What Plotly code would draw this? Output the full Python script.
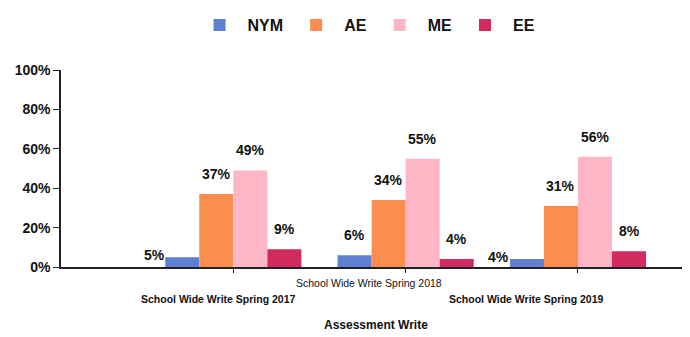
import plotly.graph_objects as go

categories = ["School Wide Write Spring 2017", "School Wide Write Spring 2018", "School Wide Write Spring 2019"]
series_names = ["NYM", "AE", "ME", "EE"]
nym = [5, 6, 4]
ae = [37, 34, 31]
me = [49, 55, 56]
ee = [9, 4, 8]
y_ticks = [0, 20, 40, 60, 80, 100]
y_tick_labels = ["0%", "20%", "40%", "60%", "80%", "100%"]
x_title = "Assessment Write"

colors = ["#5f7fd1", "#fb8d4f", "#ffb7c7", "#d12b60"]
series_values = [nym, ae, me, ee]

FONT = "Liberation Sans, Arial, sans-serif"
bargap = 0.21
bar_w = (1 - bargap) / len(series_names)

fig = go.Figure()
idx = list(range(len(categories)))
for name, vals, col in zip(series_names, series_values, colors):
    fig.add_trace(go.Bar(x=idx, y=vals, name=name, marker=dict(color=col, line=dict(width=0))))

annotations = []
for si, vals in enumerate(series_values):
    for gi, v in enumerate(vals):
        xpos = gi + (si - 1.5) * bar_w
        xshift, yshift = 0, 20
        if si == 0 and gi in (0, 2):
            xshift, yshift = -28, 2
        annotations.append(dict(x=xpos, y=v, xref="x", yref="y", text=f"{v}%",
                                showarrow=False, xshift=xshift, yshift=yshift,
                                yanchor="middle", xanchor="center",
                                font=dict(family=FONT, size=14, color="#111111", weight="bold")))

# category labels (staggered rows)
label_shift = [-15, -37, -52]
for gi, cat in enumerate(categories):
    row2 = gi != 1
    annotations.append(dict(x=gi, y=-0.16 if row2 else -0.08, xref="x", yref="paper",
                            text=cat, showarrow=False, xshift=label_shift[gi],
                            yanchor="middle", xanchor="center",
                            font=dict(family=FONT, size=10.5, color="#111111",
                                      weight="bold" if row2 else "normal")))
annotations.append(dict(x=0.5, y=-0.294, xref="paper", yref="paper", text=x_title,
                        showarrow=False, yanchor="middle",
                        font=dict(family=FONT, size=12, color="#111111", weight="bold")))

fig.update_layout(
    width=682, height=329,
    margin=dict(l=53, r=0, t=58, b=70),
    paper_bgcolor="white", plot_bgcolor="white",
    barmode="group", bargap=bargap, bargroupgap=0,
    font=dict(family=FONT, color="#111111"),
    legend=dict(orientation="h", x=0.485, xanchor="center", y=1.23, yanchor="middle",
                font=dict(family=FONT, size=16, color="#111111", weight="bold"),
                itemwidth=46, traceorder="normal"),
    annotations=annotations,
    xaxis=dict(range=[-1, 2.65], tickvals=idx, showticklabels=False,
               ticks="outside", ticklen=4, tickcolor="#222222",
               showline=True, linecolor="#222222", linewidth=2, showgrid=False, zeroline=False),
    yaxis=dict(range=[0, 100], tickvals=y_ticks, ticktext=y_tick_labels,
               ticks="outside", ticklen=6, tickcolor="#222222",
               showline=True, linecolor="#222222", linewidth=1.5, showgrid=False, zeroline=False,
               tickfont=dict(family=FONT, size=14, color="#111111", weight="bold")),
)

fig.write_html("out.html")
